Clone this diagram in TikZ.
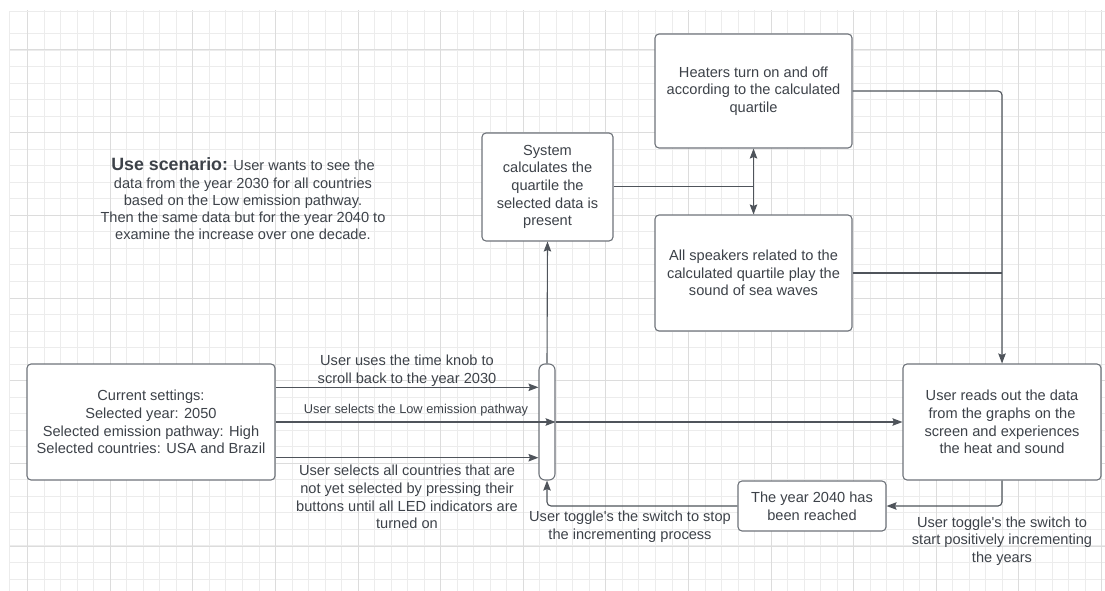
\documentclass[tikz,border=0pt]{standalone}
\usepackage{fontspec}
\setmainfont{Liberation Sans}
\usetikzlibrary{arrows.meta}
\definecolor{txt}{HTML}{3D4249}
\definecolor{edge}{HTML}{6E737A}
\definecolor{ln}{HTML}{4F545B}
\definecolor{gmin}{HTML}{ECECEC}
\definecolor{gmaj}{HTML}{DCDCDC}
\tikzset{
  box/.style={draw=edge, line width=1.1pt, rounded corners=4pt, fill=white, inner sep=0pt, text=txt, align=center, font=\fontsize{14.6}{17.6}\selectfont},
  lbl/.style={text=txt, align=center, inner sep=0pt, font=\fontsize{14.6}{17.6}\selectfont},
  smalllbl/.style={text=txt, align=center, inner sep=0pt, font=\fontsize{12.8}{15}\selectfont},
  conn/.style={draw=ln, line width=1.1pt},
  arr/.style={conn, -{Stealth[length=10pt,width=7.5pt,inset=1.5pt]}},
  gminor/.style={draw=gmin, line width=0.9pt},
  gmajor/.style={draw=gmaj, line width=1pt}
}
\begin{document}
\begin{tikzpicture}[x=1pt,y=-1pt]
\useasboundingbox (0,0) rectangle (1105,591);
% grid
\begin{scope}
\clip (9.3,11) rectangle (1105,591);
\foreach \i in {0,...,65} \draw[gminor] ({27.7+16.52*\i},0) -- ({27.7+16.52*\i},600);
\foreach \i in {-1,...,33} \draw[gminor] (0,{50+16.53*\i}) -- (1110,{50+16.53*\i});
\foreach \i in {0,...,13} \draw[gmajor] ({27.7+82.6*\i},0) -- ({27.7+82.6*\i},600);
\foreach \i in {0,...,6} \draw[gmajor] (0,{50+82.67*\i}) -- (1110,{50+82.67*\i});
\end{scope}
\draw[gminor] (9.3,591) -- (9.3,11) -- (1105,11);

% nodes
\node[box, minimum width=248pt, minimum height=116pt] (set) at (151,422) {Current settings:\\Selected year: 2050\\Selected emission pathway: High\\Selected countries: USA and Brazil};
\node[box, rounded corners=6pt, minimum width=16pt, minimum height=116pt] (bar) at (547,422) {};
\node[box, minimum width=198pt, minimum height=116pt] (rb) at (1002,422) {User reads out the data\\from the graphs on the\\screen and experiences\\the heat and sound};
\node[box, minimum width=148pt, minimum height=50pt] (y40) at (812,506) {The year 2040 has\\been reached};
\node[box, minimum width=131pt, minimum height=108pt] (sys) at (547.5,187) {System\\calculates the\\quartile the\\selected data is\\present};
\node[box, minimum width=197pt, minimum height=114pt] (heat) at (753.5,91) {Heaters turn on and off\\according to the calculated\\quartile};
\node[box, minimum width=197pt, minimum height=116pt] (spk) at (753.5,273) {All speakers related to the\\calculated quartile play the\\sound of sea waves};

% scenario text
\node[lbl, font=\fontsize{14.6}{17.3}\selectfont] (scen) at (243,199) {{\fontsize{17.8}{17.3}\selectfont\bfseries Use scenario:} User wants to see the\\data from the year 2030 for all countries\\based on the Low emission pathway.\\Then the same data but for the year 2040 to\\examine the increase over one decade.};

% connectors
\draw[arr] (set.east|-0,387.3) -- (bar.west|-0,387.3);
\draw[arr] (set.east) -- (bar.east);
\draw[arr] (bar.east) -- (rb.west);
\draw[arr] (set.east|-0,457.7) -- (bar.west|-0,457.7);
\draw[arr] (bar.north) -- (sys.south);
\coordinate (jn) at (heat.south|-0,186.7);
\draw[conn] (sys.east|-jn) -- (jn);
\draw[arr] (jn) -- (heat.south);
\draw[arr] (jn) -- (spk.north);
\draw[arr, rounded corners=4pt] (heat.east) -- (rb.north|-heat.east) -- (rb.north);
\draw[conn] (spk.east) -- (rb.north|-spk.east);
\draw[arr, rounded corners=4pt] (rb.south) -- (rb.south|-y40.east) -- (y40.east);
\draw[arr, rounded corners=4pt] (y40.west) -- (bar.south|-y40.west) -- (bar.south);

% labels
\node[lbl] (l1) at (407,370.5) {User uses the time knob to\\scroll back to the year 2030};
\node[smalllbl] (l2) at (416,410) {User selects the Low emission pathway};
\node[lbl] (l3) at (407,497) {User selects all countries that are\\not yet selected by pressing their\\buttons until all LED indicators are\\turned on};
\node[lbl] (l4) at (630,527) {User toggle\textquotesingle s the switch to stop\\the incrementing process};
\node[lbl] (l5) at (1002,541) {User toggle\textquotesingle s the switch to\\start positively incrementing\\the years};
\end{tikzpicture}
\end{document}
